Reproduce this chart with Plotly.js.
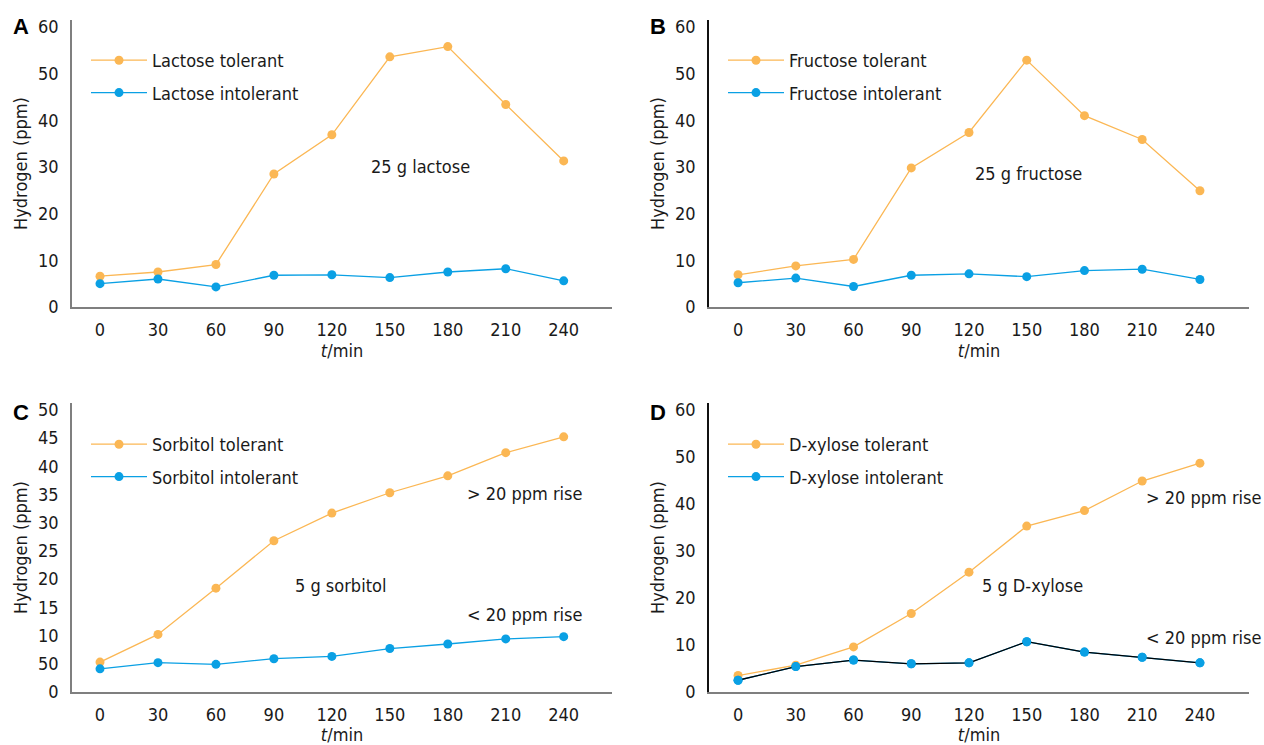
<!DOCTYPE html>
<html>
<head>
<meta charset="utf-8">
<script src="https://cdn.plot.ly/plotly-3.0.1.min.js"></script>
<style>html,body{margin:0;padding:0;background:#fff;}#chart{width:1264px;height:745px;}</style>
</head>
<body>
<div id="chart"></div>
<script>
// ---- data ----
const times = [0, 30, 60, 90, 120, 150, 180, 210, 240];
const lactoseTolerant   = [6.6, 7.5, 9.1, 28.5, 36.9, 53.6, 55.8, 43.4, 31.3];
const lactoseIntolerant = [5.0, 6.0, 4.3, 6.8, 6.9, 6.3, 7.5, 8.2, 5.6];
const fructoseTolerant   = [6.9, 8.8, 10.2, 29.8, 37.4, 52.9, 41.0, 35.9, 24.9];
const fructoseIntolerant = [5.2, 6.2, 4.4, 6.8, 7.1, 6.5, 7.8, 8.1, 5.9];
const sorbitolTolerant   = [5.3, 10.2, 18.4, 26.8, 31.7, 35.3, 38.3, 42.4, 45.2];
const sorbitolIntolerant = [4.1, 5.2, 4.9, 5.9, 6.3, 7.7, 8.5, 9.4, 9.8];
const xyloseTolerant   = [3.5, 5.7, 9.6, 16.7, 25.5, 35.3, 38.6, 44.9, 48.7];
const xyloseIntolerant = [2.5, 5.4, 6.8, 6.0, 6.2, 10.7, 8.5, 7.4, 6.2];
const xTickVals = [0, 30, 60, 90, 120, 150, 180, 210, 240];
const yTicks60 = [0, 10, 20, 30, 40, 50, 60];
const yTicksC = [0, 5, 10, 15, 20, 25, 30, 35, 40, 45, 50];
const yTickTextC = ["0", "50", "10", "15", "20", "25", "30", "35", "40", "45", "50"];

// ---- style ----
const ORANGE = '#fbb754';
const BLUE = '#0aa0e4';
const FONT = "Tahoma, 'DejaVu Sans Condensed', 'DejaVu Sans', sans-serif";
const FS = 18;
const W = 1264, H = 745;
const fx = p => p / W;
const fy = p => 1 - p / H;

function tr(x, y, name, color, xa, ya, leg, extra) {
  return Object.assign({
    x: x, y: y, name: name, type: 'scatter', mode: 'lines+markers',
    line: {color: color, width: 1.3}, marker: {color: color, size: 9},
    xaxis: xa, yaxis: ya, legend: leg, legendgroup: name, hoverinfo: 'x+y'
  }, extra || {});
}

const data = [
  tr(times, lactoseTolerant, 'Lactose tolerant', ORANGE, 'x', 'y', 'legend'),
  tr(times, lactoseIntolerant, 'Lactose intolerant', BLUE, 'x', 'y', 'legend'),
  tr(times, fructoseTolerant, 'Fructose tolerant', ORANGE, 'x2', 'y2', 'legend2'),
  tr(times, fructoseIntolerant, 'Fructose intolerant', BLUE, 'x2', 'y2', 'legend2'),
  tr(times, sorbitolTolerant, 'Sorbitol tolerant', ORANGE, 'x3', 'y3', 'legend3'),
  tr(times, sorbitolIntolerant, 'Sorbitol intolerant', BLUE, 'x3', 'y3', 'legend3'),
  tr(times, xyloseTolerant, 'D-xylose tolerant', ORANGE, 'x4', 'y4', 'legend4'),
  tr(times, xyloseIntolerant, 'D-xylose intolerant', BLUE, 'x4', 'y4', 'legend4'),
  tr(times, xyloseIntolerant, 'D-xylose intolerant line', '#000000', 'x4', 'y4', 'legend4', {mode: 'lines', showlegend: false, line: {color: '#000', width: 1.3}}),
  tr(times, xyloseIntolerant, 'D-xylose intolerant pts', BLUE, 'x4', 'y4', 'legend4', {mode: 'markers', showlegend: false})
];

function xax(dom, range, anchor) {
  return {
    domain: dom, range: range, anchor: anchor,
    tickvals: xTickVals, ticks: 'outside', ticklen: 5, tickcolor: 'rgba(0,0,0,0)',
    showline: true, linecolor: '#7f7f7f', linewidth: 2, showgrid: false, zeroline: false,
    tickfont: {family: FONT, size: FS, color: '#1a1a1a'},
    title: {text: '<i>t</i>/min', font: {family: FONT, size: FS, color: '#1a1a1a'}, standoff: 4}
  };
}
function yax(dom, range, anchor, vals, text, lc) {
  return {
    domain: dom, range: range, anchor: anchor,
    tickvals: vals, ticktext: text, ticks: 'outside', ticklen: 8, tickcolor: 'rgba(0,0,0,0)',
    showline: true, linecolor: lc, linewidth: 1.6, showgrid: false, zeroline: false,
    tickfont: {family: FONT, size: FS, color: '#1a1a1a'},
    title: {text: 'Hydrogen (ppm)', font: {family: FONT, size: FS, color: '#1a1a1a'}, standoff: 6}
  };
}
function leg(xp, yp) {
  return {x: fx(xp), y: fy(yp), xanchor: 'left', yanchor: 'top', bgcolor: 'rgba(0,0,0,0)',
    font: {family: FONT, size: FS, color: '#1a1a1a'}, itemwidth: 56, tracegroupgap: 6};
}
function ann(text, x, y, xr, yr, extra) {
  return Object.assign({text: text, x: x, y: y, xref: xr, yref: yr, showarrow: false,
    font: {family: FONT, size: FS, color: '#1a1a1a'}}, extra || {});
}
function letter(t, xp, yp) {
  return {text: '<b>' + t + '</b>', x: fx(xp), y: fy(yp), xref: 'paper', yref: 'paper',
    xanchor: 'center', yanchor: 'middle',
    showarrow: false, font: {family: 'Arial, Liberation Sans, sans-serif', size: 22, color: '#000'}};
}

const layout = {
  width: W, height: H, margin: {l: 0, r: 0, t: 0, b: 0},
  paper_bgcolor: '#fff', plot_bgcolor: '#fff', showlegend: true,
  xaxis: xax([fx(72), fx(612)], [-14.5, 265], 'y'),
  yaxis: yax([fy(307), fy(20)], [0, 61.5], 'x', yTicks60, null, '#7f7f7f'),
  xaxis2: xax([fx(709), fx(1249)], [-15.1, 265.5], 'y2'),
  yaxis2: yax([fy(307), fy(20)], [0, 61.5], 'x2', yTicks60, null, '#111'),
  xaxis3: xax([fx(72), fx(612)], [-14.5, 265], 'y3'),
  yaxis3: yax([fy(692), fy(403)], [0, 51.2], 'x3', yTicksC, yTickTextC, '#7f7f7f'),
  xaxis4: xax([fx(709), fx(1249)], [-15.1, 265.5], 'y4'),
  yaxis4: yax([fy(692), fy(403)], [0, 61.5], 'x4', yTicks60, null, '#111'),
  legend: leg(86, 42),
  legend2: leg(723, 42),
  legend3: leg(86, 426),
  legend4: leg(723, 426),
  annotations: [
    letter('A', 21, 26), letter('B', 658, 26), letter('C', 21, 412), letter('D', 658, 412),
    ann('25 g lactose', 166, 30.2, 'x', 'y'),
    ann('25 g fructose', 151, 28.7, 'x2', 'y2'),
    ann('5 g sorbitol', 124.7, 18.8, 'x3', 'y3'),
    ann('&gt; 20 ppm rise', 220, 35.1, 'x3', 'y3'),
    ann('&lt; 20 ppm rise', 220, 13.65, 'x3', 'y3'),
    ann('5 g D-xylose', 152.8, 22.6, 'x4', 'y4'),
    ann('&gt; 20 ppm rise', 242, 41.3, 'x4', 'y4'),
    ann('&lt; 20 ppm rise', 242, 11.5, 'x4', 'y4')
  ]
};

Plotly.newPlot('chart', data, layout, {displayModeBar: false, responsive: false});
</script>
</body>
</html>
